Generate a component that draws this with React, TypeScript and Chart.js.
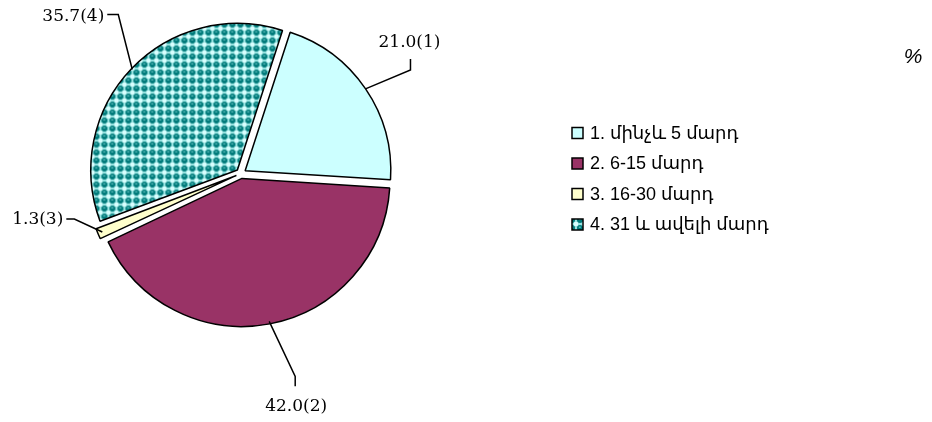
import React, { useEffect, useRef } from "react";
import { Chart, registerables } from "chart.js";

Chart.register(...registerables);

const categories = ["1. մինչև 5 մարդ", "2. 6-15 մարդ", "3. 16-30 մարդ", "4. 31 և ավելի մարդ"];
const values = [21.0, 42.0, 1.3, 35.7];
const valueLabels = ["21.0(1)", "42.0(2)", "1.3(3)", "35.7(4)"];
const unitLabel = "%";

const sliceColors = ["#CCFFFF", "#993366", "#FFFFCC", "pattern"];

// leader-line geometry relative to the slice edge point (style config)
const leaders = [
  { elbow: [45, -19], end: [0, -11], text: [-1, -16], align: "center" },
  { elbow: [26, 55], end: [0, 10], text: [1, 20], align: "center" },
  { elbow: [-28, -13], end: [-8, 0], text: [-3, 1], align: "right" },
  { elbow: [-14, -55], end: [-11, 0], text: [-3, 2], align: "right" },
];

function makePattern(): CanvasPattern | string {
  const c = document.createElement("canvas");
  c.width = 8;
  c.height = 8;
  const g = c.getContext("2d");
  if (!g) return "#008080";
  g.fillStyle = "#9ae4e2";
  g.fillRect(0, 0, 8, 8);
  g.fillStyle = "#d8ffff";
  g.fillRect(0, 0, 2, 2);
  g.fillRect(6, 0, 2, 2);
  g.fillRect(0, 6, 2, 2);
  g.fillRect(6, 6, 2, 2);
  g.fillStyle = "#007a7a";
  g.beginPath();
  g.arc(4, 4, 3, 0, Math.PI * 2);
  g.fill();
  g.fillStyle = "#6cc8c6";
  g.fillRect(2.8, 2.6, 2, 1.2);
  const p = g.createPattern(c, "repeat");
  return p || "#008080";
}

export default function App() {
  const ref = useRef<HTMLCanvasElement>(null);

  useEffect(() => {
    const canvas = ref.current;
    if (!canvas) return;
    const pattern = makePattern();
    const colors = sliceColors.map((c) => (c === "pattern" ? pattern : c));

    const labelPlugin = {
      id: "labelsAndLegend",
      afterDraw(chart: any) {
        const ctx = chart.ctx as CanvasRenderingContext2D;
        const meta = chart.getDatasetMeta(0);
        ctx.save();
        meta.data.forEach((arc: any, i: number) => {
          const { x, y, startAngle, endAngle, outerRadius } = arc.getProps(
            ["x", "y", "startAngle", "endAngle", "outerRadius"],
            true
          );
          const off = (arc.options.offset || 0) / 4;
          const a = (startAngle + endAngle) / 2;
          const ex = x + Math.cos(a) * (outerRadius + off);
          const ey = y + Math.sin(a) * (outerRadius + off);
          const L = leaders[i];
          const bx = ex + L.elbow[0];
          const by = ey + L.elbow[1];
          const cx = bx + L.end[0];
          const cy = by + L.end[1];
          ctx.strokeStyle = "#000";
          ctx.lineWidth = 1.5;
          ctx.beginPath();
          ctx.moveTo(ex, ey);
          ctx.lineTo(bx, by);
          ctx.lineTo(cx, cy);
          ctx.stroke();
          ctx.fillStyle = "#000";
          ctx.font = '17px "DejaVu Serif", serif';
          ctx.textAlign = L.align as CanvasTextAlign;
          ctx.textBaseline = "middle";
          ctx.fillText(valueLabels[i], cx + L.text[0], cy + L.text[1]);
        });
        // legend
        const lx = 572;
        const ly0 = 133;
        const step = 30.5;
        categories.forEach((name, i) => {
          const yy = ly0 + i * step;
          ctx.fillStyle = colors[i] as any;
          ctx.fillRect(lx, yy - 5.5, 11, 11);
          ctx.strokeStyle = "#000";
          ctx.lineWidth = 1.5;
          ctx.strokeRect(lx, yy - 5.5, 11, 11);
          ctx.fillStyle = "#000";
          ctx.font = '18px "Liberation Sans", Arial, "DejaVu Sans", sans-serif';
          ctx.textAlign = "left";
          ctx.textBaseline = "middle";
          ctx.fillText(name, lx + 18, yy + 1);
        });
        ctx.font = 'italic 21px "Liberation Sans", Arial, sans-serif';
        ctx.textAlign = "center";
        ctx.textBaseline = "middle";
        ctx.fillText(unitLabel, 913, 57);
        ctx.restore();
      },
    };

    const chart = new Chart(canvas, {
      type: "pie",
      data: {
        labels: categories,
        datasets: [
          {
            data: values,
            backgroundColor: colors as any,
            borderColor: "#000",
            borderWidth: 1.5,
            offset: 20,
            hoverOffset: 20,
          },
        ],
      },
      options: {
        responsive: false,
        animation: false,
        rotation: 18,
        layout: { padding: { left: 84.75, right: 534.75, top: 17.25, bottom: 92.25 } },
        plugins: {
          legend: { display: false },
          tooltip: { enabled: false },
        },
        events: [],
      },
      plugins: [labelPlugin],
    });
    return () => chart.destroy();
  }, []);

  return (
    <div style={{ position: "fixed", left: 0, top: 0, width: 932, height: 422, background: "#fff" }}>
      <canvas ref={ref} width={932} height={422} style={{ display: "block" }} />
    </div>
  );
}
